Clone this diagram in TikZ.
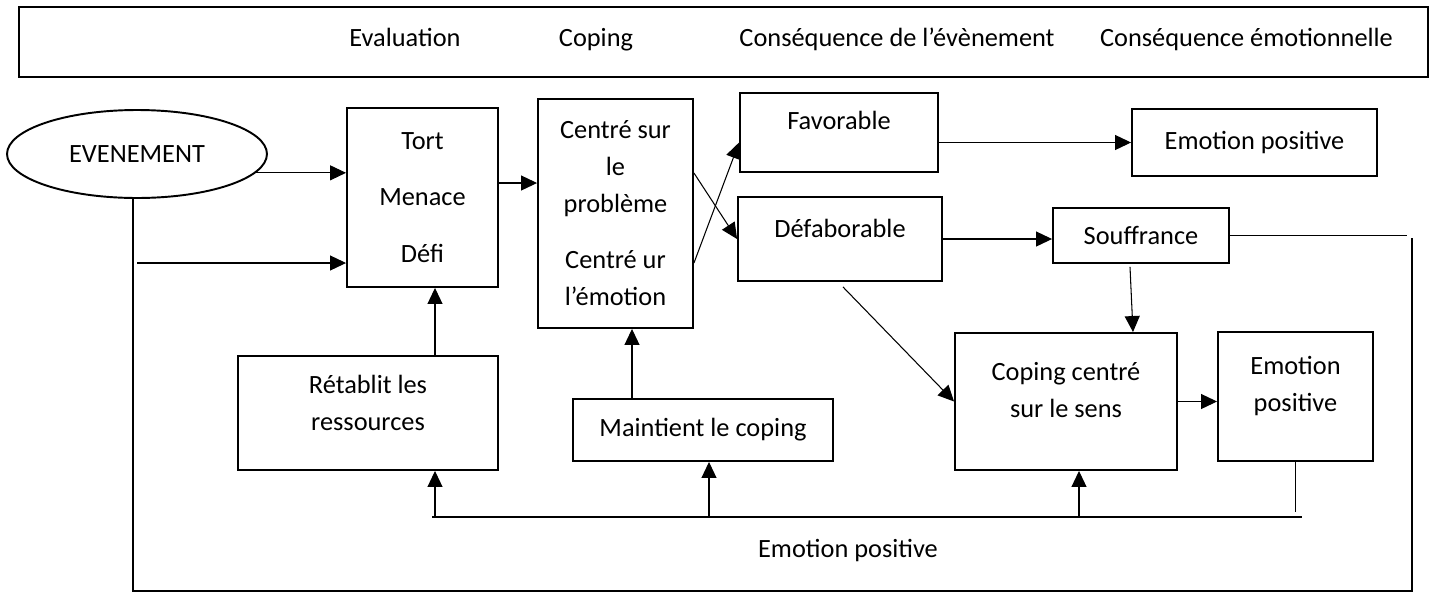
\documentclass[tikz,border=0pt]{standalone}
\usepackage{fontspec}
\setmainfont{Carlito}
\usepackage{tikz}
\usetikzlibrary{shapes.geometric, arrows.meta, positioning}

\begin{document}
\begin{tikzpicture}[
        x=0.02cm, y=-0.02cm,
        font=\fontsize{15}{21}\selectfont,
        box/.style={rectangle, draw, line width=1.1pt, align=center, inner sep=0pt},
        head/.style={anchor=base},
        arrow/.style={-{Triangle[length=0.32cm, width=0.3cm]}, line width=0.6pt},
        link/.style={line width=0.6pt}
    ]
        \useasboundingbox (0,0) rectangle (1434,596);

        % Header
        \node[box, minimum width=28.18cm, minimum height=1.4cm] (header) at (723.5,42) {};
        \node[head] (hEval) at (405,46) {Evaluation};
        \node[head] (hCoping) at (596,46) {Coping};
        \node[head] (hEvent) at (897,46) {Conséquence de l’évènement};
        \node[head] (hEmo) at (1246.5,46) {Conséquence émotionnelle};

        % Nodes
        \node[ellipse, draw, line width=1.1pt, minimum width=5.2cm, minimum height=1.76cm, inner sep=0pt] (event) at (137,154) {EVENEMENT};
        \node[box, minimum width=3.02cm, minimum height=3.58cm] (tort) at (422.5,197.5) {Tort\\[11pt]Menace\\[11pt]Défi};
        \node[box, minimum width=3.1cm, minimum height=4.58cm] (centre) at (615.5,213.5) {Centré sur\\le\\problème\\[11pt]Centré ur\\l’émotion};
        \node[box, minimum width=3.96cm, minimum height=1.58cm,
              label={[yshift=0.25cm]center:Favorable}] (favorable) at (839,132.5) {};
        \node[box, minimum width=4.08cm, minimum height=1.68cm,
              label={[yshift=0.22cm]center:Défaborable}] (defab) at (840,239) {};
        \node[box, minimum width=4.9cm, minimum height=1.34cm] (emoPos) at (1254.5,142.5) {Emotion positive};
        \node[box, minimum width=3.52cm, minimum height=1.1cm] (souf) at (1141,235.5) {Souffrance};
        \node[box, minimum width=5.2cm, minimum height=2.28cm,
              label={[align=center, yshift=0.2cm]center:{Rétablit les\\ressources}}] (retablit) at (368,413) {};
        \node[box, minimum width=5.2cm, minimum height=1.24cm] (maintient) at (703,430) {Maintient le coping};
        \node[box, minimum width=4.44cm, minimum height=2.74cm,
              label={[align=center, yshift=0.23cm]center:{Coping centré\\sur le sens}}] (sens) at (1066,401.5) {};
        \node[box, minimum width=3.1cm, minimum height=2.58cm,
              label={[align=center, yshift=0.21cm]center:{Emotion\\positive}}] (emoPosB) at (1295.5,396.5) {};
        \node (emoLabel) at (848,551) {Emotion positive};

        % Loop coordinates
        \coordinate (soufEnd) at (1407,234);
        \coordinate (loopTR) at (1412,238);
        \coordinate (loopBR) at (1412,591);
        \coordinate (loopBL) at (133,591);
        \coordinate (loopTap) at (137,263);
        \coordinate (fbL) at (432,517);
        \coordinate (fbR) at (1302,517);

        % Arrows
        \draw[arrow] (event.-9) -- (event.-9 -| tort.west);
        \draw[arrow] (loopTap) -- (loopTap -| tort.west);
        \draw[arrow] ([yshift=0.29cm]tort.east) -- ([yshift=0.29cm]tort.east -| centre.west);
        \draw[arrow] ([yshift=-0.99cm]centre.east) -- ([yshift=-0.2cm]favorable.west);
        \draw[arrow] ([yshift=0.81cm]centre.east) -- (defab.west);
        \draw[arrow] (favorable.east |- emoPos.west) -- (emoPos.west);
        \draw[arrow] (defab.east) -- (defab.east -| souf.west);
        \draw[arrow] ([xshift=0.06cm, yshift=-0.1cm]defab.south) -- (sens.west);
        \draw[arrow] ([xshift=-0.22cm, yshift=-0.06cm]souf.south) -- ([xshift=-0.16cm]souf.south |- sens.north);
        \draw[arrow] (sens.east) -- (sens.east -| emoPosB.west);
        \draw[arrow] ([xshift=0.25cm]tort.south |- retablit.north) -- ([xshift=0.25cm]tort.south);
        \draw[arrow] ([xshift=0.33cm]centre.south |- maintient.north) -- ([xshift=0.33cm]centre.south);

        % Feedback lines
        \draw[link] (souf.east) -- (souf.east -| soufEnd);
        \draw[link] (loopTR) -- (loopBR) -- (loopBL) -- (loopBL |- event.south);
        \draw[link] (fbL) -- (fbR);
        \draw[link] (emoPosB.south) -- (emoPosB.south |- 0,512);
        \foreach \xx/\nd in {435/retablit, 709/maintient, 1079/sens}
            \draw[arrow] (\xx,517) -- (\nd.south -| \xx,517);
    \end{tikzpicture}
\end{document}
